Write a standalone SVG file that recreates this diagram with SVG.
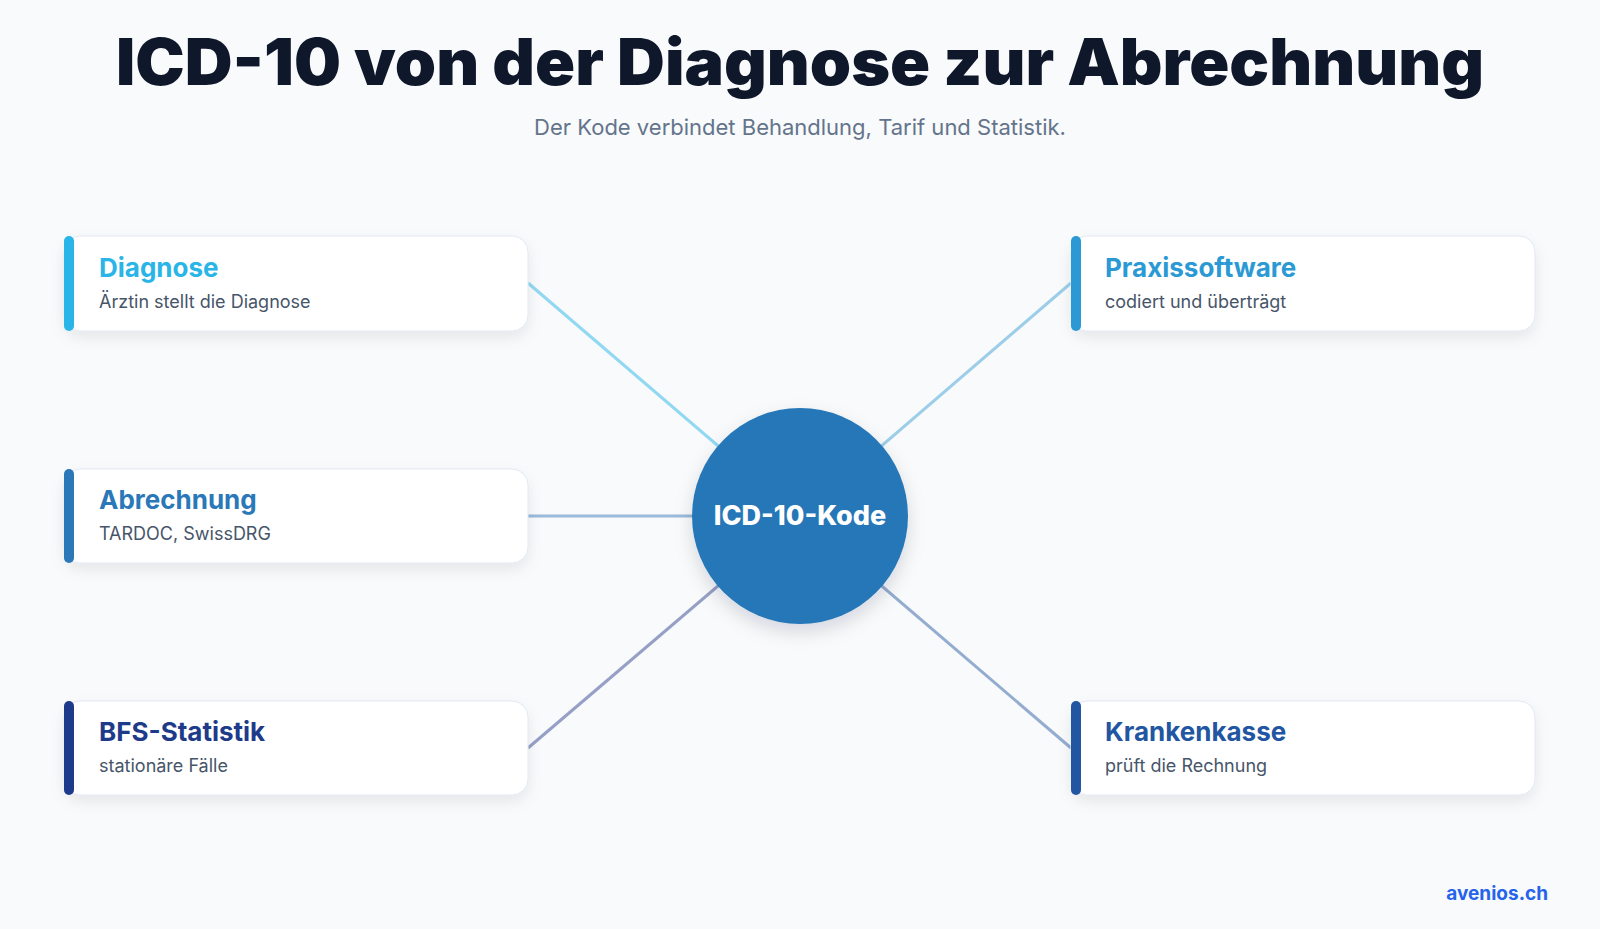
<svg xmlns="http://www.w3.org/2000/svg" width="1600" height="929" viewBox="0 0 1600 929">
<defs>
<filter id="sh" x="-10%" y="-20%" width="120%" height="160%">
<feDropShadow dx="0" dy="6" stdDeviation="7" flood-color="#0f172a" flood-opacity="0.08"/>
</filter>
<filter id="csh" x="-20%" y="-20%" width="140%" height="150%">
<feDropShadow dx="0" dy="8" stdDeviation="9" flood-color="#0f172a" flood-opacity="0.14"/>
</filter>
<style>
.card{fill:#ffffff;stroke:#e2e8f0;stroke-width:1}
.t{font-family:Inter,"Liberation Sans",sans-serif;font-weight:700;font-size:26px}
.s{font-family:Inter,"Liberation Sans",sans-serif;font-size:18px;fill:#475569}
.ln{stroke-width:3;fill:none;stroke-opacity:0.5}
</style>
</defs>
<rect width="1600" height="929" fill="#f8fafc"/>
<text x="800" y="85" text-anchor="middle" font-family="Inter,'Liberation Sans',sans-serif" font-weight="900" font-size="64" fill="#0f172a" textLength="1368" lengthAdjust="spacingAndGlyphs">ICD-10 von der Diagnose zur Abrechnung</text>
<text x="800" y="135" text-anchor="middle" font-family="Inter,'Liberation Sans',sans-serif" font-size="22" fill="#64748b">Der Kode verbindet Behandlung, Tarif und Statistik.</text>
<g id="connectors">
<line class="ln" x1="528" y1="283" x2="800" y2="516" stroke="#29b5e8"/>
<line class="ln" x1="528" y1="516" x2="800" y2="516" stroke="#3a7ab8"/>
<line class="ln" x1="528" y1="748" x2="800" y2="516" stroke="#34468f"/>
<line class="ln" x1="1071" y1="283" x2="800" y2="516" stroke="#3fa2d6"/>
<line class="ln" x1="1071" y1="748" x2="800" y2="516" stroke="#2d5ea3"/>
</g>
<g id="node-diagnose">
<rect class="card" x="64" y="236" width="464" height="95" rx="16" filter="url(#sh)"/>
<rect x="64" y="236" width="10" height="95" rx="5" fill="#29b5e8"/>
<text class="t" x="99" y="277" fill="#29b5e8">Diagnose</text>
<text class="s" x="99" y="308">Ärztin stellt die Diagnose</text>
</g>
<g id="node-abrechnung">
<rect class="card" x="64" y="469" width="464" height="94" rx="16" filter="url(#sh)"/>
<rect x="64" y="469" width="10" height="94" rx="5" fill="#2a78b8"/>
<text class="t" x="99" y="509" fill="#2a78b8">Abrechnung</text>
<text class="s" x="99" y="540">TARDOC, SwissDRG</text>
</g>
<g id="node-bfs">
<rect class="card" x="64" y="701" width="464" height="94" rx="16" filter="url(#sh)"/>
<rect x="64" y="701" width="10" height="94" rx="5" fill="#1e3a8a"/>
<text class="t" x="99" y="741" fill="#1e3a8a">BFS-Statistik</text>
<text class="s" x="99" y="772">stationäre Fälle</text>
</g>
<g id="node-praxissoftware">
<rect class="card" x="1071" y="236" width="464" height="95" rx="16" filter="url(#sh)"/>
<rect x="1071" y="236" width="10" height="95" rx="5" fill="#2b9ad4"/>
<text class="t" x="1105" y="277" fill="#2b9ad4">Praxissoftware</text>
<text class="s" x="1105" y="308">codiert und überträgt</text>
</g>
<g id="node-krankenkasse">
<rect class="card" x="1071" y="701" width="464" height="94" rx="16" filter="url(#sh)"/>
<rect x="1071" y="701" width="10" height="94" rx="5" fill="#2256a2"/>
<text class="t" x="1105" y="741" fill="#2256a2">Krankenkasse</text>
<text class="s" x="1105" y="772">prüft die Rechnung</text>
</g>
<g id="node-center">
<circle cx="800" cy="516" r="108" fill="#2777b8" filter="url(#csh)"/>
<text x="800" y="525" text-anchor="middle" font-family="Inter,'Liberation Sans',sans-serif" font-weight="800" font-size="27" fill="#ffffff">ICD-10-Kode</text>
</g>
<text x="1548" y="900" text-anchor="end" font-family="Inter,'Liberation Sans',sans-serif" font-weight="700" font-size="19" fill="#2563eb">avenios.ch</text>
</svg>
